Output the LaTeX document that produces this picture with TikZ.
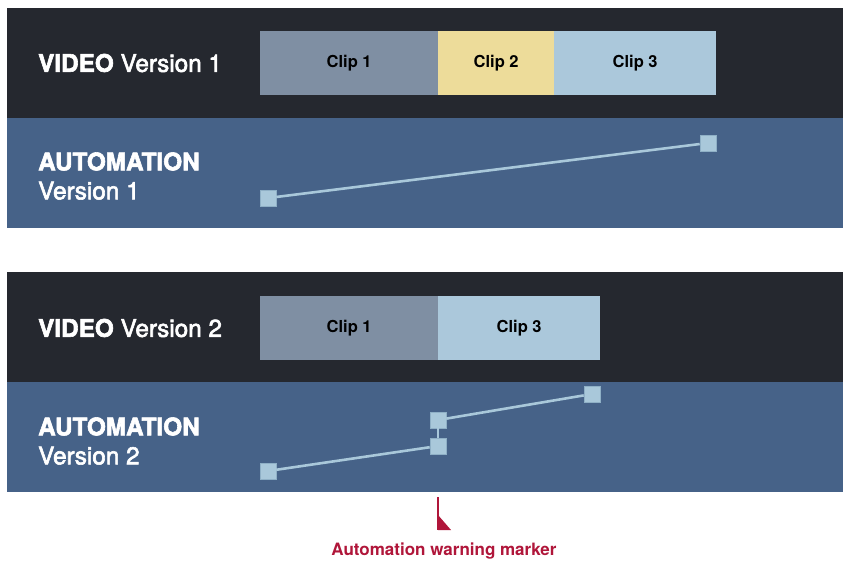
\documentclass[tikz,border=0pt]{standalone}
\usepackage{fontspec}
\setmainfont{TeX Gyre Heros}
\newfontfamily\medfont[FakeBold=2.5]{TeX Gyre Heros}
\begin{document}
\begin{tikzpicture}[x=1pt,y=-1pt,
  dark/.style={fill=darkbg,draw=none,minimum width=836pt,minimum height=110pt,inner sep=0pt,anchor=north west},
  auto/.style={fill=autobg,draw=none,minimum width=836pt,minimum height=110pt,inner sep=0pt,anchor=north west},
  clip/.style={draw=none,inner sep=0pt,minimum height=64pt,anchor=north west,font=\fontsize{16.5}{20}\bfseries,text=black},
  lbl/.style={text=white,anchor=west,inner sep=0pt,font=\fontsize{24.3}{29}\medfont,align=left},
  pt/.style={fill=ptcol,draw=ptdraw,line width=0.6pt,minimum size=16pt,inner sep=0pt},
  aline/.style={draw=ptcol,line width=2.6pt},
]
\definecolor{darkbg}{HTML}{25282F}
\definecolor{autobg}{HTML}{466288}
\definecolor{c1}{HTML}{7F8FA3}
\definecolor{c2}{HTML}{EDDC9A}
\definecolor{c3}{HTML}{ABC8DB}
\definecolor{ptcol}{HTML}{A9C8DA}
\definecolor{ptdraw}{HTML}{8FB0C6}
\definecolor{warn}{HTML}{B0163A}
\useasboundingbox (0,0) rectangle (843,563);
\fill[white] (0,0) rectangle (843,563);
% bands
\node[dark] (d1) at (7,8) {};
\node[auto] (a1) at (7,118) {};
\node[dark] (d2) at (7,272) {};
\node[auto] (a2) at (7,382) {};
% version 1 clips
\node[clip,fill=c1,minimum width=178pt] (v1c1) at (260,31) {Clip 1};
\node[clip,fill=c2,minimum width=116pt] (v1c2) at (438,31) {Clip 2};
\node[clip,fill=c3,minimum width=162pt] (v1c3) at (554,31) {Clip 3};
% version 2 clips
\node[clip,fill=c1,minimum width=178pt] (v2c1) at (260,296) {Clip 1};
\node[clip,fill=c3,minimum width=162pt] (v2c3) at (438,296) {Clip 3};
% labels
\node[lbl] (t1) at (38,63) {\textbf{VIDEO} Version 1};
\node[lbl] (t2) at (38,176) {\textbf{AUTOMATION}\\Version 1};
\node[lbl] (t3) at (38,328) {\textbf{VIDEO} Version 2};
\node[lbl] (t4) at (38,441) {\textbf{AUTOMATION}\\Version 2};
% automation 1
\node[pt] (p1) at (268,198) {};
\node[pt] (p2) at (708,143) {};
\draw[aline] (p1) -- (p2);
% automation 2
\node[pt] (q1) at (268,471) {};
\node[pt] (q2) at (438,446) {};
\node[pt] (q3) at (438,420) {};
\node[pt] (q4) at (592,394) {};
\draw[aline] (q1) -- (q2);
\draw[aline] (q2) -- (q3);
\draw[aline] (q3) -- (q4);
% warning marker
\coordinate (mtop) at (438,497);
\coordinate (mbot) at (438,530);
\draw[warn,line width=1.3pt] (mtop) -- (mbot);
\fill[warn] (438,515) -- (451,530) -- (438,530) -- cycle;
\node[text=warn,font=\fontsize{17}{20}\bfseries,inner sep=0pt] (wl) at (444,551) {Automation warning marker};
\end{tikzpicture}
\end{document}
